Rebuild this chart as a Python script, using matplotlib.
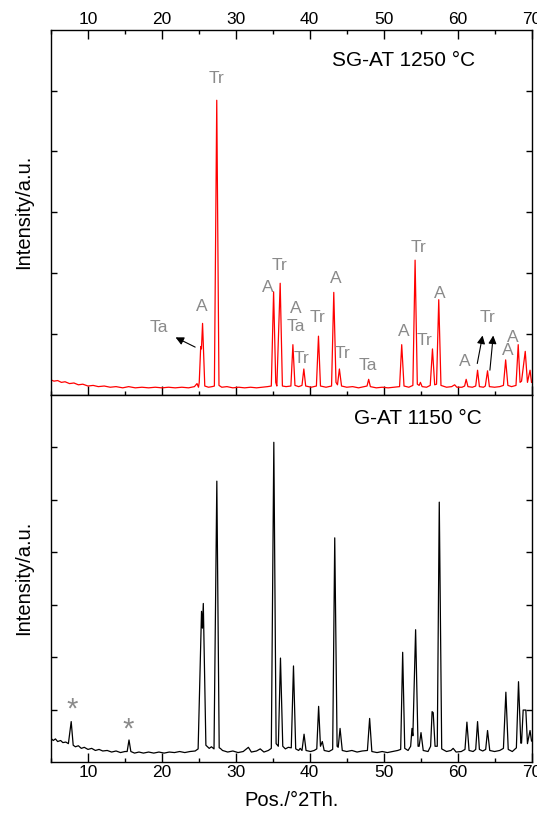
import matplotlib
matplotlib.use("Agg")
from matplotlib import pyplot as plt
from matplotlib.ticker import MultipleLocator

plt.rcParams['font.family'] = ['Liberation Sans', 'DejaVu Sans']

# SG-AT 1250 °C (pattern de cima, vermelho)
pos_sg = [5.0, 5.4, 5.9, 6.4, 6.9, 7.5, 8.1, 8.7, 9.3, 10.0, 10.7, 11.4, 12.2, 13.0, 13.8,
          14.7, 15.5, 16.4, 17.3, 18.2, 19.1, 20.0, 20.9, 21.8, 22.7, 23.6, 24.4, 24.75, 24.95,
          25.05, 25.25, 25.35, 25.5, 25.8, 26.3, 26.8, 27.1, 27.42, 27.72, 28.1, 28.8, 29.6,
          30.4, 31.2, 32.0, 32.8, 33.6, 34.3, 34.8, 35.11, 35.4, 35.55, 36.0, 36.3, 36.8, 37.45,
          37.72, 38.0, 38.5, 38.95, 39.2, 39.45, 40.2, 40.9, 41.18, 41.45, 42.2, 42.95, 43.25,
          43.55, 43.75, 44.01, 44.3, 45.0, 45.8, 46.6, 47.4, 47.75, 47.97, 48.2, 49.0, 49.8,
          50.6, 51.4, 52.15, 52.44, 52.75, 53.4, 53.95, 54.25, 54.55, 54.8, 54.97, 55.2, 55.8,
          56.3, 56.6, 56.9, 57.15, 57.45, 57.75, 58.5, 59.2, 59.6, 59.9, 60.6, 60.95, 61.16,
          61.4, 62.0, 62.45, 62.7, 62.95, 63.5, 63.75, 64.05, 64.3, 65.0, 65.7, 66.2, 66.5,
          66.8, 67.3, 67.9, 68.2, 68.45, 68.65, 69.15, 69.45, 69.8, 70.0]
int_sg = [0.24, 0.22, 0.23, 0.20, 0.21, 0.18, 0.19, 0.16, 0.17, 0.14, 0.15, 0.13, 0.14, 0.12, 0.13,
          0.11, 0.13, 0.11, 0.12, 0.11, 0.12, 0.11, 0.12, 0.11, 0.12, 0.11, 0.13, 0.18, 0.12,
          0.20, 0.79, 0.75, 1.17, 0.14, 0.12, 0.13, 0.14, 4.84, 0.15, 0.12, 0.13, 0.11,
          0.12, 0.11, 0.12, 0.11, 0.12, 0.13, 0.14, 1.69, 0.20, 0.14, 1.83, 0.14, 0.13, 0.14,
          0.82, 0.15, 0.13, 0.15, 0.42, 0.14, 0.12, 0.14, 0.96, 0.14, 0.12, 0.14, 1.68,
          0.20, 0.16, 0.42, 0.14, 0.12, 0.13, 0.11, 0.13, 0.14, 0.25, 0.13, 0.11, 0.12,
          0.11, 0.12, 0.13, 0.82, 0.14, 0.12, 0.15, 2.21, 0.17, 0.15, 0.20, 0.13, 0.12,
          0.15, 0.75, 0.16, 0.17, 1.56, 0.15, 0.12, 0.13, 0.16, 0.12, 0.12, 0.14, 0.25,
          0.13, 0.12, 0.14, 0.40, 0.13, 0.12, 0.14, 0.39, 0.13, 0.12, 0.13, 0.15, 0.57,
          0.15, 0.13, 0.15, 0.82, 0.20, 0.22, 0.71, 0.20, 0.40, 0.20]

# G-AT 1150 °C (pattern de baixo, preto)
pos_g = [5.0, 5.3, 5.6, 5.9, 6.3, 6.6, 7.0, 7.35, 7.73, 8.0, 8.3, 8.7, 9.1, 9.5, 10.0, 10.5,
         11.0, 11.5, 12.0, 12.6, 13.2, 13.8, 14.4, 15.0, 15.3, 15.55, 15.8, 16.3, 16.9, 17.5,
         18.2, 18.9, 19.6, 20.3, 21.0, 21.7, 22.4, 23.1, 23.8, 24.5, 24.9, 25.36, 25.48, 25.6,
         25.95, 26.4, 26.7, 27.05, 27.43, 27.75, 27.9, 28.2, 28.9, 29.6, 30.3, 31.0, 31.7, 32.1,
         32.8, 33.3, 33.8, 34.4, 34.8, 35.14, 35.45, 35.75, 36.04, 36.35, 36.7, 37.1, 37.5,
         37.8, 38.1, 38.5, 38.7, 38.95, 39.23, 39.5, 40.1, 40.6, 40.95, 41.2, 41.45, 41.7,
         41.95, 42.6, 43.1, 43.38, 43.7, 43.85, 44.1, 44.4, 45.0, 45.7, 46.4, 47.1, 47.8, 48.1,
         48.4, 49.1, 49.8, 50.5, 51.2, 51.9, 52.3, 52.57, 52.85, 53.3, 53.65, 53.83, 53.95,
         54.32, 54.65, 54.8, 55.05, 55.35, 56.0, 56.35, 56.55, 56.7, 56.95, 57.25, 57.52,
         57.85, 58.5, 59.1, 59.4, 59.8, 60.5, 61.0, 61.26, 61.55, 62.1, 62.45, 62.7, 62.95,
         63.4, 63.8, 64.05, 64.35, 65.0, 65.7, 66.2, 66.53, 66.85, 67.4, 67.95, 68.24, 68.55,
         68.65, 68.87, 69.23, 69.45, 69.8, 70.0]
int_g = [0.45, 0.41, 0.44, 0.39, 0.41, 0.37, 0.38, 0.35, 0.77, 0.32, 0.29, 0.31, 0.26, 0.28, 0.24, 0.26,
         0.22, 0.24, 0.21, 0.22, 0.19, 0.21, 0.18, 0.20, 0.20, 0.42, 0.20, 0.17, 0.19, 0.17,
         0.19, 0.17, 0.19, 0.17, 0.19, 0.18, 0.20, 0.18, 0.20, 0.21, 0.25, 2.87, 2.55, 3.02,
         0.32, 0.26, 0.29, 0.25, 5.35, 0.27, 0.26, 0.22, 0.19, 0.21, 0.18, 0.20, 0.28, 0.19,
         0.21, 0.25, 0.19, 0.22, 0.26, 6.09, 0.35, 0.30, 1.98, 0.30, 0.25, 0.28, 0.27,
         1.83, 0.25, 0.22, 0.26, 0.22, 0.53, 0.22, 0.20, 0.22, 0.25, 1.06, 0.30, 0.39,
         0.22, 0.20, 0.24, 4.27, 0.30, 0.28, 0.64, 0.22, 0.20, 0.22, 0.19, 0.21, 0.22, 0.83,
         0.20, 0.18, 0.20, 0.18, 0.20, 0.22, 0.24, 2.09, 0.26, 0.22, 0.30, 0.64, 0.50,
         2.52, 0.30, 0.30, 0.56, 0.22, 0.20, 0.30, 0.96, 0.94, 0.30, 0.30, 4.95,
         0.25, 0.20, 0.22, 0.26, 0.19, 0.20, 0.24, 0.76, 0.22, 0.20, 0.24, 0.77, 0.24,
         0.21, 0.24, 0.60, 0.22, 0.20, 0.22, 0.26, 1.33, 0.24, 0.20, 0.27, 1.53, 0.36,
         0.36, 0.99, 0.99, 0.35, 0.60, 0.40]

# rotulos das fases no pattern SG-AT
rot_texto = ["Ta", "A", "Tr", "A", "Tr", "A", "Ta", "Tr", "Tr", "A", "Tr", "Ta",
             "A", "Tr", "Tr", "A", "A", "Tr", "A", "A"]
rot_x = [19.6, 25.35, 27.36, 34.3, 35.85, 38.1, 38.1, 38.85, 41.05, 43.55, 44.4, 47.85,
         52.7, 54.65, 55.5, 57.6, 60.95, 64.1, 67.5, 66.75]
rot_y = [1.11, 1.45, 5.2, 1.76, 2.13, 1.41, 1.12, 0.6, 1.27, 1.91, 0.68, 0.47,
         1.04, 2.42, 0.89, 1.66, 0.54, 1.27, 0.93, 0.72]

# setas (cauda -> ponta)
seta_de = [(24.5, 0.78), (62.66, 0.51), (64.37, 0.40)]
seta_para = [(21.85, 0.94), (63.38, 0.97), (64.82, 0.97)]

# asteriscos no G-AT
ast_x = [7.86, 15.5]
ast_y = [1.11, 0.73]

cinza = '#8a8a8a'

fig = plt.figure(figsize=(5.37, 8.17), dpi=100)
ax1 = fig.add_axes([0.095, 0.5171, 0.8948, 0.4465])
ax2 = fig.add_axes([0.095, 0.0673, 0.8948, 0.4498])

for ax in (ax1, ax2):
    ax.set_xlim(5, 70)
    ax.xaxis.set_major_locator(MultipleLocator(10))
    ax.xaxis.set_minor_locator(MultipleLocator(5))
    ax.yaxis.set_major_locator(MultipleLocator(1))
    ax.tick_params(axis='x', which='major', direction='in', length=6.3, width=1, labelsize=12.5, pad=2)
    ax.tick_params(axis='x', which='minor', direction='in', length=3, width=1)
    ax.tick_params(axis='y', which='major', direction='in', length=4, width=1,
                   left=True, right=True, labelleft=False)
    for s in ax.spines.values():
        s.set_linewidth(1.0)
    ax.set_ylabel("Intensity/a.u.", fontsize=14.5)
    ax.yaxis.set_label_coords(-0.037, 0.5)

# painel de cima
ax1.plot(pos_sg, int_sg, color='red', lw=0.9)
ax1.set_ylim(0, 6)
ax1.set_yticks([1, 2, 3, 4, 5])
ax1.tick_params(axis='x', which='both', top=True, bottom=True, labeltop=True, labelbottom=False)
ax1.text(52.7, 5.5, "SG-AT 1250 °C", fontsize=15, ha='center', va='center')
for t, x, y in zip(rot_texto, rot_x, rot_y):
    ax1.text(x, y, t, fontsize=12.5, color=cinza, ha='center', va='center')
for a, b in zip(seta_de, seta_para):
    ax1.annotate("", xy=b, xytext=a,
                 arrowprops=dict(arrowstyle='-|>', color='black', lw=0.8, mutation_scale=12,
                                 shrinkA=0, shrinkB=0))

# painel de baixo
ax2.plot(pos_g, int_g, color='black', lw=0.9)
ax2.set_ylim(0, 7)
ax2.set_yticks([1, 2, 3, 4, 5, 6])
ax2.tick_params(axis='x', which='both', top=False, bottom=True, labelbottom=True)
ax2.text(54.6, 6.54, "G-AT 1150 °C", fontsize=15, ha='center', va='center')
for x, y in zip(ast_x, ast_y):
    ax2.text(x, y - 0.12, "*", fontsize=21, color=cinza, ha='center', va='center')
ax2.set_xlabel("Pos./°2Th.", fontsize=14.5, labelpad=8)

plt.savefig("out.png", dpi=100)
